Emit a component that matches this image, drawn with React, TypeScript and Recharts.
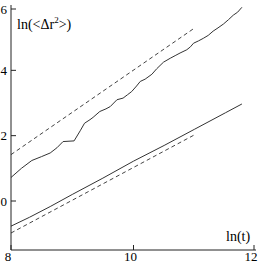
import React from 'react'
import { LineChart, Line, XAxis, YAxis } from 'recharts'

// upper (noisy) solid curve
const upperSolid = [
  { t: 8.0, r: 0.72 }, { t: 8.17, r: 1.0 }, { t: 8.34, r: 1.24 }, { t: 8.5, r: 1.36 },
  { t: 8.64, r: 1.47 }, { t: 8.75, r: 1.63 }, { t: 8.85, r: 1.82 }, { t: 9.03, r: 1.84 },
  { t: 9.13, r: 2.15 }, { t: 9.2, r: 2.38 }, { t: 9.29, r: 2.49 }, { t: 9.34, r: 2.56 },
  { t: 9.45, r: 2.74 }, { t: 9.55, r: 2.82 }, { t: 9.62, r: 2.89 }, { t: 9.73, r: 3.1 },
  { t: 9.83, r: 3.15 }, { t: 9.9, r: 3.25 }, { t: 9.97, r: 3.35 }, { t: 10.05, r: 3.52 },
  { t: 10.11, r: 3.66 }, { t: 10.19, r: 3.73 }, { t: 10.3, r: 3.88 }, { t: 10.38, r: 4.05 },
  { t: 10.49, r: 4.25 }, { t: 10.6, r: 4.37 }, { t: 10.68, r: 4.45 }, { t: 10.76, r: 4.53 },
  { t: 10.87, r: 4.63 }, { t: 10.93, r: 4.72 }, { t: 10.98, r: 4.83 }, { t: 11.06, r: 4.9 },
  { t: 11.14, r: 4.98 }, { t: 11.22, r: 5.07 }, { t: 11.3, r: 5.2 }, { t: 11.38, r: 5.3 },
  { t: 11.47, r: 5.42 }, { t: 11.55, r: 5.55 }, { t: 11.63, r: 5.69 }, { t: 11.7, r: 5.78 },
  { t: 11.77, r: 5.93 },
]

// lower solid curve
const lowerSolid = [
  { t: 8.0, r: -0.77 }, { t: 8.3, r: -0.5 }, { t: 8.64, r: -0.17 }, { t: 9.0, r: 0.2 },
  { t: 9.5, r: 0.7 }, { t: 10.0, r: 1.22 }, { t: 10.5, r: 1.7 }, { t: 11.0, r: 2.2 },
  { t: 11.5, r: 2.7 }, { t: 11.77, r: 2.97 },
]

// reference slopes (dashed)
const upperDashed = [{ t: 8.0, r: 1.42 }, { t: 11.0, r: 5.3 }]
const lowerDashed = [{ t: 8.0, r: -0.98 }, { t: 11.0, r: 2.03 }]

const xTicks = [8, 10, 12]
const yTicks = [0, 2, 4, 6]

const font = '"Liberation Serif", "Times New Roman", serif'
const ink = '#222'

const XTick = (props: any) => {
  const { x, y, payload } = props
  return (
    <g>
      <line x1={x} y1={y} x2={x} y2={y - 5} stroke={ink} />
      <text x={x - 3} y={y + 10.5} textAnchor="middle" fontFamily={font} fontSize={13} fill="#000">
        {payload.value}
      </text>
    </g>
  )
}

const YTick = (props: any) => {
  const { x, y, payload } = props
  return (
    <g>
      <line x1={x} y1={y} x2={x + 5} y2={y} stroke={ink} />
      <text x={x - 4} y={y + 4.5} textAnchor="end" fontFamily={font} fontSize={13} fill="#000">
        {payload.value}
      </text>
    </g>
  )
}

export default function App() {
  return (
    <div style={{ position: 'absolute', left: 0, top: 0, width: 262, height: 263, background: '#fff' }}>
      <LineChart width={262} height={263} margin={{ top: 5, right: 6, bottom: 0, left: 0 }}>
        <XAxis
          dataKey="t"
          type="number"
          domain={[8, 12]}
          ticks={xTicks}
          height={13}
          tickSize={0}
          tickMargin={0}
          tick={<XTick />}
          tickLine={false}
          axisLine={{ stroke: ink }}
          allowDataOverflow
        />
        <XAxis xAxisId="top" orientation="top" type="number" domain={[8, 12]} height={0} tick={false} tickLine={false} axisLine={{ stroke: '#999' }} />
        <YAxis
          type="number"
          domain={[-1.5, 6]}
          ticks={yTicks}
          width={11}
          tickSize={0}
          tickMargin={0}
          tick={<YTick />}
          tickLine={false}
          axisLine={{ stroke: ink }}
          allowDataOverflow
        />
        <YAxis yAxisId="right" orientation="right" type="number" domain={[-1.5, 6]} width={0} tick={false} tickLine={false} axisLine={{ stroke: '#999' }} />
        <Line data={upperDashed} dataKey="r" stroke="#444" strokeWidth={1} strokeDasharray="4 3" dot={false} isAnimationActive={false} />
        <Line data={lowerDashed} dataKey="r" stroke="#444" strokeWidth={1} strokeDasharray="4 3" dot={false} isAnimationActive={false} />
        <Line data={upperSolid} dataKey="r" stroke="#333" strokeWidth={1} dot={false} isAnimationActive={false} />
        <Line data={lowerSolid} dataKey="r" stroke="#333" strokeWidth={1} dot={false} isAnimationActive={false} />
      </LineChart>
      <div style={{ position: 'absolute', left: 17, top: 17, fontFamily: font, fontSize: 14, lineHeight: '16px', color: '#000', whiteSpace: 'nowrap' }}>
        ln(&lt;Δr<span style={{ fontSize: 9, position: 'relative', top: -6 }}>2</span>&gt;)
      </div>
      <div style={{ position: 'absolute', left: 226, top: 229, fontFamily: font, fontSize: 14, lineHeight: '16px', color: '#000', whiteSpace: 'nowrap' }}>
        ln(t)
      </div>
    </div>
  )
}
